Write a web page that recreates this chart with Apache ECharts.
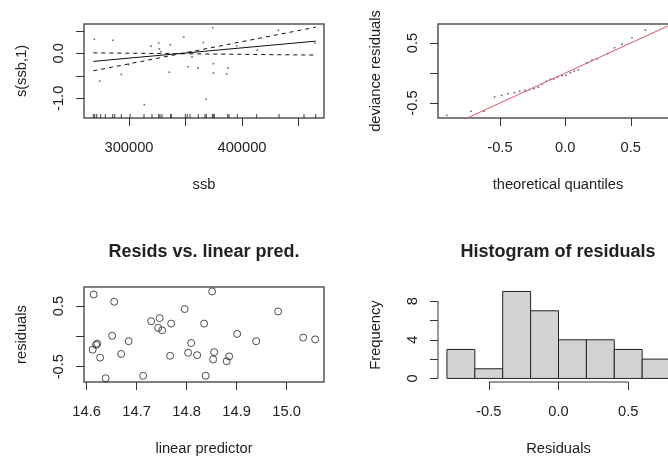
<!DOCTYPE html>
<html>
<head>
<meta charset="utf-8">
<script src="https://cdn.jsdelivr.net/npm/echarts@6/dist/echarts.min.js"></script>
<style>
html,body{margin:0;padding:0;background:#fff;}
#chart{width:668px;height:456px;}
</style>
</head>
<body>
<div id="chart"></div>
<script>
// ---------- Panel 1: s(ssb,1) ----------
const ssbRug = [268400, 269640, 271410, 274950, 279020, 285580, 287340, 293190, 300890, 313280, 320360, 326280, 327440, 329210, 336900, 337440, 349830, 351600, 353990, 361320, 367260, 368410, 373720, 374610, 375490, 387350, 388500, 395850, 413020, 432750, 454880, 465230];
const partialX = [269290, 285840, 274070, 293190, 299730, 313540, 319470, 326280, 326820, 328320, 336550, 335670, 348410, 352220, 355760, 361070, 365760, 368150, 374070, 374610, 374610, 386460, 387620, 395310, 413550, 432130, 464610];
const partialY = [0.31, 0.29, -0.62, -0.47, -0.25, -1.14, 0.16, 0.23, 0.10, 0.04, 0.19, -0.42, 0.36, -0.30, -0.08, -0.33, 0.24, -1.02, 0.57, -0.23, -0.44, -0.46, -0.33, 0.16, 0.07, 0.51, 0.23];
const fitX = [268400, 465230];
const fitY = [-0.18, 0.27];
const bandA = [-0.39, 0.58];
const bandB = [0.01, -0.04];
const p1XTicks = [300000, 350000, 400000, 450000];
const p1XLabels = [300000, 400000];
const p1YTicks = [-1.0, -0.5, 0, 0.5];
const p1YLabels = [-1.0, 0];

// ---------- Panel 2: QQ plot ----------
const qqX = [-0.906, -0.720, -0.621, -0.540, -0.486, -0.437, -0.389, -0.349, -0.308, -0.273, -0.239, -0.206, -0.176, -0.145, -0.115, -0.089, -0.059, -0.025, 0.005, 0.038, 0.069, 0.099, 0.166, 0.204, 0.242, 0.323, 0.376, 0.433, 0.509, 0.611];
const qqY = [-0.705, -0.638, -0.638, -0.40, -0.372, -0.345, -0.328, -0.305, -0.288, -0.278, -0.262, -0.238, -0.183, -0.138, -0.105, -0.10, -0.067, -0.045, -0.038, 0.005, 0.033, 0.05, 0.167, 0.217, 0.238, 0.322, 0.422, 0.478, 0.588, 0.712];
const refLineX = [-1, 1];
const refLineY = [-1, 1];
const p2XTicks = [-0.5, 0, 0.5];
const p2YTicks = [-0.5, 0, 0.5];
const p2YLabels = [-0.5, 0.5];

// ---------- Panel 3: residuals vs linear predictor ----------
const linPred = [14.614, 14.655, 14.612, 14.619, 14.621, 14.627, 14.638, 14.651, 14.669, 14.684, 14.713, 14.729, 14.746, 14.743, 14.751, 14.769, 14.767, 14.796, 14.803, 14.809, 14.821, 14.835, 14.838, 14.851, 14.855, 14.853, 14.880, 14.885, 14.901, 14.939, 14.983, 15.033, 15.057];
const resid = [0.69, 0.57, -0.22, -0.14, -0.12, -0.35, -0.69, 0.01, -0.29, -0.08, -0.65, 0.25, 0.30, 0.14, 0.10, 0.21, -0.32, 0.45, -0.27, -0.11, -0.31, 0.21, -0.65, 0.74, -0.26, -0.38, -0.41, -0.33, 0.04, -0.08, 0.41, -0.02, -0.05];
const p3XTicks = [14.6, 14.7, 14.8, 14.9, 15.0];
const p3YTicks = [-0.5, 0, 0.5];
const p3YLabels = [-0.5, 0.5];

// ---------- Panel 4: histogram ----------
const histBreaks = [-0.8, -0.6, -0.4, -0.2, 0.0, 0.2, 0.4, 0.6, 0.8];
const histCounts = [3, 1, 9, 7, 4, 4, 3, 2];
const p4XTicks = [-0.5, 0, 0.5];
const p4YTicks = [0, 2, 4, 6, 8];
const p4YLabels = [0, 4, 8];

const FONT = "'Liberation Sans', Arial, sans-serif";
const FS = 14.7;
const TXT = '#222';

function xAx(gi, min, max, ticks, labels, fmt, name) {
  return {
    type: 'value', gridIndex: gi, min: min, max: max,
    splitLine: {show: false},
    axisLine: {show: false, onZero: false},
    axisTick: {show: true, inside: false, length: 8, lineStyle: {color: '#333', width: 1}, customValues: ticks},
    axisLabel: {show: true, margin: 22, color: TXT, fontFamily: FONT, fontSize: FS, customValues: labels, formatter: fmt, hideOverlap: false},
    name: name, nameLocation: 'middle', nameGap: 59,
    nameTextStyle: {color: TXT, fontFamily: FONT, fontSize: FS}
  };
}
function yAx(gi, min, max, ticks, labels, fmt, name) {
  return {
    type: 'value', gridIndex: gi, min: min, max: max,
    splitLine: {show: false},
    axisLine: {show: false, onZero: false},
    axisTick: {show: true, inside: false, length: 8, lineStyle: {color: '#333', width: 1}, customValues: ticks},
    axisLabel: {show: true, margin: 18, rotate: 90, color: TXT, fontFamily: FONT, fontSize: FS, customValues: labels, formatter: fmt, hideOverlap: false},
    name: name, nameLocation: 'middle', nameGap: 55, nameRotate: 90,
    nameTextStyle: {color: TXT, fontFamily: FONT, fontSize: FS}
  };
}
const f1 = v => v.toFixed(1);
const f0 = v => String(Math.round(v));

const p1YRange = [-1.438, 0.651];
const p4XRange = [-0.864, 0.864];
const p4YRange = [-0.37, 9.36];

const boxGrid = {show: true, borderColor: '#555', borderWidth: 1.5, backgroundColor: 'transparent', outerBoundsMode: 'none', containLabel: false};

const option = {
  animation: false,
  backgroundColor: '#fff',
  textStyle: {fontFamily: FONT},
  grid: [
    Object.assign({left: 84, top: 24, width: 240, height: 94}, boxGrid),
    Object.assign({left: 438, top: 24, width: 240, height: 94}, boxGrid),
    Object.assign({left: 84, top: 287, width: 240, height: 95}, boxGrid),
    {left: 438, top: 288, width: 241, height: 94, show: false, outerBoundsMode: 'none', containLabel: false}
  ],
  xAxis: [
    xAx(0, 260177, 472566, p1XTicks, p1XLabels, f0, 'ssb'),
    xAx(1, -0.973, 0.861, p2XTicks, p2XTicks, f1, 'theoretical quantiles'),
    xAx(2, 14.5947, 15.0747, p3XTicks, p3XTicks, f1, 'linear predictor'),
    xAx(3, p4XRange[0], p4XRange[1], p4XTicks, p4XTicks, f1, 'Residuals')
  ],
  yAxis: [
    yAx(0, p1YRange[0], p1YRange[1], p1YTicks, p1YLabels, f1, 's(ssb,1)'),
    yAx(1, -0.75, 0.817, p2YTicks, p2YLabels, f1, 'deviance residuals'),
    yAx(2, -0.752, 0.813, p3YTicks, p3YLabels, f1, 'residuals'),
    yAx(3, p4YRange[0], p4YRange[1], p4YTicks, p4YLabels, f0, 'Frequency')
  ],
  graphic: [
    {type: 'text', x: 204, y: 252, style: {text: 'Resids vs. linear pred.', fill: TXT, font: 'bold 18px ' + FONT, textAlign: 'center', textVerticalAlign: 'middle'}},
    {type: 'text', x: 558, y: 252, style: {text: 'Histogram of residuals', fill: TXT, font: 'bold 18px ' + FONT, textAlign: 'center', textVerticalAlign: 'middle'}}
  ],
  series: [
    // panel 1
    {type: 'scatter', xAxisIndex: 0, yAxisIndex: 0, symbol: 'rect', symbolSize: 1.6,
     itemStyle: {color: '#444'}, data: partialX.map((x, i) => [x, partialY[i]])},
    {type: 'line', xAxisIndex: 0, yAxisIndex: 0, symbol: 'none', lineStyle: {color: '#111', width: 1},
     data: fitX.map((x, i) => [x, fitY[i]])},
    {type: 'line', xAxisIndex: 0, yAxisIndex: 0, symbol: 'none', lineStyle: {color: '#111', width: 1, type: [4, 4]},
     data: fitX.map((x, i) => [x, bandA[i]])},
    {type: 'line', xAxisIndex: 0, yAxisIndex: 0, symbol: 'none', lineStyle: {color: '#111', width: 1, type: [4, 4]},
     data: fitX.map((x, i) => [x, bandB[i]])},
    {type: 'scatter', xAxisIndex: 0, yAxisIndex: 0, symbol: 'rect', symbolSize: [1, 4], symbolOffset: [0, -2],
     clip: false, itemStyle: {color: '#111'}, data: ssbRug.map(x => [x, p1YRange[0]])},
    // panel 2
    {type: 'line', xAxisIndex: 1, yAxisIndex: 1, symbol: 'none', clip: true, lineStyle: {color: '#DF536B', width: 1},
     data: refLineX.map((x, i) => [x, refLineY[i]])},
    {type: 'scatter', xAxisIndex: 1, yAxisIndex: 1, symbol: 'rect', symbolSize: 1.6,
     itemStyle: {color: '#444'}, data: qqX.map((x, i) => [x, qqY[i]])},
    // panel 3
    {type: 'scatter', xAxisIndex: 2, yAxisIndex: 2, symbol: 'circle', symbolSize: 7,
     itemStyle: {color: 'rgba(0,0,0,0)', borderColor: '#222', borderWidth: 1},
     data: linPred.map((x, i) => [x, resid[i]])},
    // panel 4
    {type: 'custom', xAxisIndex: 3, yAxisIndex: 3, clip: false,
     data: histCounts.map((c, i) => [histBreaks[i], histBreaks[i + 1], c]),
     encode: {x: [0, 1], y: 2},
     renderItem: function (params, api) {
       const a = api.coord([api.value(0), api.value(2)]);
       const b = api.coord([api.value(1), 0]);
       return {type: 'rect', shape: {x: a[0], y: a[1], width: b[0] - a[0], height: b[1] - a[1]},
               style: {fill: '#D3D3D3', stroke: '#222', lineWidth: 1}};
     }},
    {type: 'line', xAxisIndex: 3, yAxisIndex: 3, symbol: 'none', clip: false, lineStyle: {color: '#333', width: 1},
     data: [[p4XTicks[0], p4YRange[0]], [p4XTicks[p4XTicks.length - 1], p4YRange[0]]]},
    {type: 'line', xAxisIndex: 3, yAxisIndex: 3, symbol: 'none', clip: false, lineStyle: {color: '#333', width: 1},
     data: [[p4XRange[0], p4YTicks[0]], [p4XRange[0], p4YTicks[p4YTicks.length - 1]]]}
  ]
};
const chart = echarts.init(document.getElementById('chart'), null, {renderer: 'canvas'});
chart.setOption(option);
</script>
</body>
</html>
